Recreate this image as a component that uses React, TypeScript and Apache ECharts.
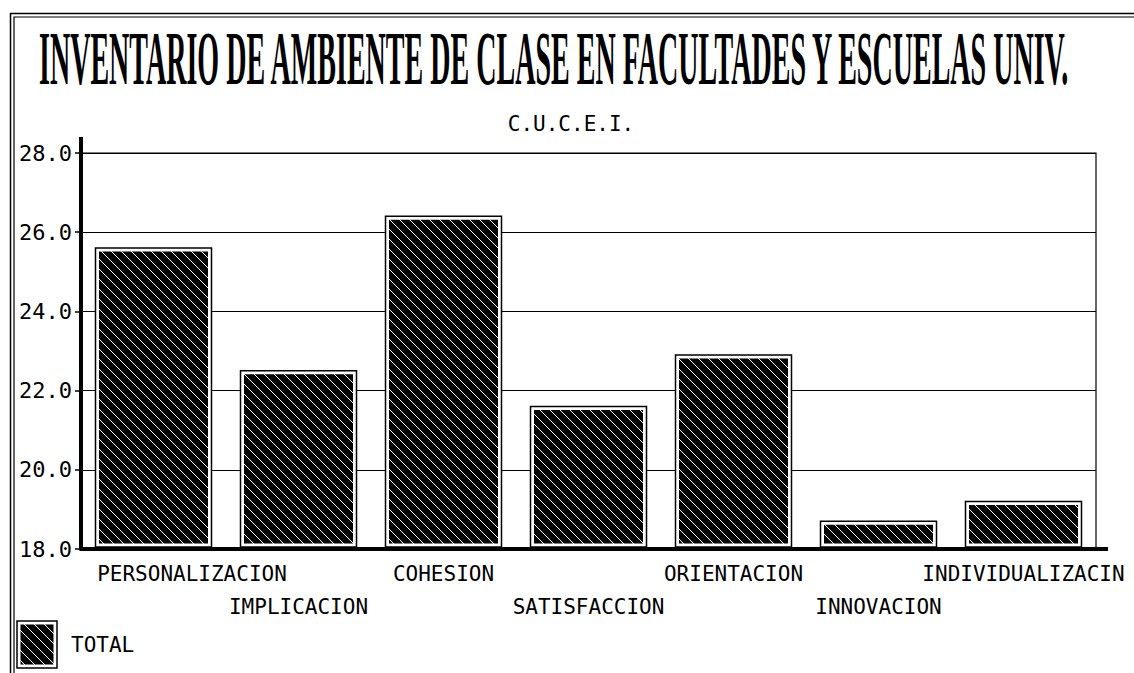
import React, { useEffect, useRef } from 'react';
import * as echarts from 'echarts';

const categories = [
  'PERSONALIZACION',
  'IMPLICACION',
  'COHESION',
  'SATISFACCION',
  'ORIENTACION',
  'INNOVACION',
  'INDIVIDUALIZACIN',
];
const totalValues = [25.6, 22.5, 26.4, 21.6, 22.9, 18.7, 19.2];
const yMin = 18;
const yMax = 28;
const yInterval = 2;
const titleText = 'INVENTARIO DE AMBIENTE DE CLASE EN FACULTADES Y ESCUELAS UNIV.';
const subtitleText = 'C.U.C.E.I.';
const seriesName = 'TOTAL';

const MONO = '"DejaVu Sans Mono", monospace';

const hatchSvg =
  '<svg xmlns="http://www.w3.org/2000/svg" width="10" height="10">' +
  '<rect width="10" height="10" fill="#000"/>' +
  '<path d="M-2,-2L12,12M-2,8L2,12M8,-2L12,2" stroke="#fff" stroke-width="1"/>' +
  '</svg>';
const hatchUrl = 'data:image/svg+xml;charset=utf-8,' + encodeURIComponent(hatchSvg);
const hatch: any = { image: hatchUrl, repeat: 'repeat', imageWidth: 10, imageHeight: 10 };

export default function App() {
  const ref = useRef<HTMLDivElement>(null);

  useEffect(() => {
    if (!ref.current) return;
    const chart = echarts.init(ref.current, undefined, { renderer: 'svg' });

    // measure title to condense it to the target width
    let titleScale = 0.34;
    try {
      const ctx = document.createElement('canvas').getContext('2d');
      if (ctx) {
        ctx.font = 'bold 76px "Liberation Serif"';
        const w = ctx.measureText(titleText).width;
        if (w > 0) titleScale = 1033 / w;
      }
    } catch (e) {}

    const option: any = {
      animation: false,
      backgroundColor: '#fff',
      grid: {
        left: 81,
        top: 153,
        width: 1015,
        height: 396,
        show: true,
        borderColor: '#000',
        borderWidth: 1.2,
        containLabel: false,
        outerBoundsMode: 'none',
      },
      xAxis: {
        type: 'category',
        data: categories,
        boundaryGap: true,
        axisLine: { show: true, lineStyle: { color: '#000', width: 4 } },
        axisTick: { show: false },
        splitLine: { show: false },
        axisLabel: {
          interval: 0,
          margin: 14,
          color: '#000',
          fontFamily: MONO,
          fontSize: 21,
          hideOverlap: false,
          formatter: (v: string, i: number) =>
            i === 0 ? `{p|${v}}` : i % 2 === 1 ? `{b|${v}}` : `{a|${v}}`,
          rich: {
            a: { fontFamily: MONO, fontSize: 21, color: '#000' },
            b: { fontFamily: MONO, fontSize: 21, color: '#000', padding: [33, 0, 0, 0] },
            p: { fontFamily: MONO, fontSize: 21, color: '#000', padding: [0, 0, 0, 77] },
          },
        },
      },
      yAxis: {
        type: 'value',
        min: yMin,
        max: yMax,
        interval: yInterval,
        axisLine: { show: true, lineStyle: { color: '#000', width: 4 } },
        axisTick: { show: true, length: 6, lineStyle: { color: '#000', width: 1.5 } },
        splitLine: { show: true, lineStyle: { color: '#000', width: 1.2 } },
        axisLabel: {
          margin: 9,
          color: '#000',
          fontFamily: MONO,
          fontSize: 22,
          formatter: (v: number) => v.toFixed(1),
        },
      },
      series: [
        {
          name: seriesName,
          type: 'custom',
          encode: { x: 0, y: 1 },
          data: totalValues.map((v, i) => [i, v]),
          renderItem: (params: any, api: any) => {
            const xi = api.value(0);
            const v = api.value(1);
            const top = api.coord([xi, v]);
            const base = api.coord([xi, yMin]);
            const bw = api.size([1, 0])[0] * 0.8;
            const x = top[0] - bw / 2;
            const y = top[1];
            const h = base[1] - 2 - y;
            return {
              type: 'group',
              children: [
                {
                  type: 'rect',
                  shape: { x, y, width: bw, height: h },
                  style: { fill: '#fff', stroke: '#000', lineWidth: 1.5 },
                },
                {
                  type: 'rect',
                  shape: { x: x + 3.5, y: y + 3.5, width: bw - 7, height: h - 7 },
                  style: { fill: hatch },
                },
              ],
            };
          },
        },
      ],
      graphic: [
        // outer double frame
        {
          type: 'rect',
          silent: true,
          shape: { x: 10.5, y: 13.5, width: 1300, height: 800 },
          style: { fill: 'none', stroke: '#000', lineWidth: 1.5 },
        },
        {
          type: 'rect',
          silent: true,
          shape: { x: 14, y: 17, width: 1300, height: 800 },
          style: { fill: 'none', stroke: '#000', lineWidth: 1.2 },
        },
        // title
        {
          type: 'text',
          x: 39,
          y: 58,
          scaleX: titleScale,
          style: {
            text: titleText,
            fontFamily: '"Liberation Serif", serif',
            fontWeight: 'bold',
            fontSize: 76,
            fill: '#000',
            textAlign: 'left',
            textVerticalAlign: 'middle',
          },
        },
        // subtitle
        {
          type: 'text',
          x: 571,
          y: 124,
          style: {
            text: subtitleText,
            fontFamily: MONO,
            fontSize: 21,
            fill: '#000',
            textAlign: 'center',
            textVerticalAlign: 'middle',
          },
        },
        // y axis extension above top
        {
          type: 'line',
          silent: true,
          shape: { x1: 81, y1: 137, x2: 81, y2: 153 },
          style: { stroke: '#000', lineWidth: 4 },
        },
        // x axis extension to the right
        {
          type: 'line',
          silent: true,
          shape: { x1: 1096, y1: 549, x2: 1108, y2: 549 },
          style: { stroke: '#000', lineWidth: 4 },
        },
        // legend
        {
          type: 'rect',
          silent: true,
          shape: { x: 17, y: 621, width: 40, height: 47 },
          style: { fill: '#fff', stroke: '#000', lineWidth: 1.5 },
        },
        {
          type: 'rect',
          silent: true,
          shape: { x: 20.5, y: 624.5, width: 33, height: 40 },
          style: { fill: hatch },
        },
        {
          type: 'text',
          x: 71,
          y: 645,
          style: {
            text: seriesName,
            fontFamily: MONO,
            fontSize: 21,
            fill: '#000',
            textAlign: 'left',
            textVerticalAlign: 'middle',
          },
        },
      ],
    };

    chart.setOption(option);
    return () => chart.dispose();
  }, []);

  return (
    <div
      ref={ref}
      style={{ position: 'fixed', left: 0, top: 0, width: 1134, height: 673, background: '#fff' }}
    />
  );
}
